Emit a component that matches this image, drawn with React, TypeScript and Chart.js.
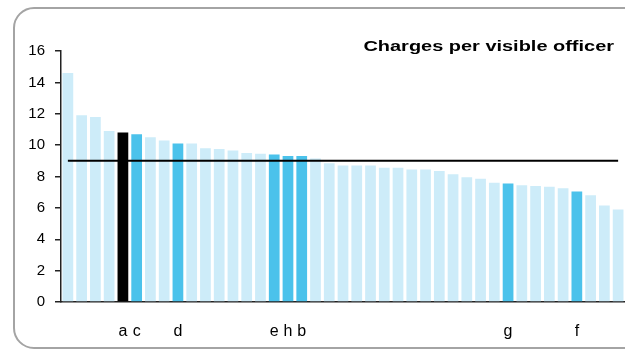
import React, { useEffect, useRef } from "react";
import { Chart, registerables } from "chart.js";

Chart.register(...registerables);

const categories: string[] = [
  "", "", "", "", "a", "c", "", "", "d", "", "", "", "", "", "", "e", "h", "b", "", "", "",
  "", "", "", "", "", "", "", "", "", "", "", "g", "", "", "", "", "f", "", "", "",
];

const chargesPerOfficer: number[] = [
  14.6, 11.9, 11.8, 10.9, 10.8, 10.7, 10.5, 10.3, 10.1, 10.1, 9.8, 9.75, 9.65, 9.5, 9.45,
  9.4, 9.3, 9.3, 9.15, 8.85, 8.7, 8.7, 8.7, 8.55, 8.55, 8.45, 8.45, 8.35, 8.15, 7.95,
  7.85, 7.6, 7.55, 7.45, 7.4, 7.35, 7.25, 7.05, 6.8, 6.15, 5.9,
];

const averageValue = 9.0;
const blackLabel = "a";
const highlightedLabels: string[] = ["c", "d", "e", "h", "b", "g", "f"];
const yTicks: number[] = [0, 2, 4, 6, 8, 10, 12, 14, 16];
const chartTitle = "Charges per visible officer";

const LIGHT = "#cdecf9";
const HIGHLIGHT = "#4bc2eb";
const BLACK = "#000000";
const FONT = "'Liberation Sans', Arial, sans-serif";

const framePlugin = {
  id: "frameAndTitle",
  beforeDraw(chart: any) {
    const ctx = chart.ctx;
    ctx.save();
    ctx.strokeStyle = "#a4a4a4";
    ctx.lineWidth = 2;
    const left = 14;
    const top = 8;
    const bottom = 348;
    const r = 20;
    ctx.beginPath();
    ctx.moveTo(700, top);
    ctx.lineTo(left + r, top);
    ctx.arcTo(left, top, left, top + r, r);
    ctx.lineTo(left, bottom - r);
    ctx.arcTo(left, bottom, left + r, bottom, r);
    ctx.lineTo(700, bottom);
    ctx.stroke();
    ctx.restore();
  },
  afterDraw(chart: any) {
    const ctx = chart.ctx;
    ctx.save();
    ctx.fillStyle = "#000";
    ctx.font = `bold 15px ${FONT}`;
    ctx.textAlign = "right";
    ctx.textBaseline = "alphabetic";
    ctx.translate(614, 51);
    ctx.scale(1.33, 1);
    ctx.fillText(chartTitle, 0, 0);
    ctx.restore();
  },
};

export default function App() {
  const canvasRef = useRef<HTMLCanvasElement | null>(null);

  useEffect(() => {
    if (!canvasRef.current) return;
    const barColors = categories.map((c) =>
      c === blackLabel ? BLACK : highlightedLabels.includes(c) ? HIGHLIGHT : LIGHT
    );
    const chart = new Chart(canvasRef.current, {
      type: "bar",
      data: {
        labels: categories,
        datasets: [
          {
            type: "line",
            label: "Average",
            data: categories.map(() => averageValue),
            borderColor: "#000",
            borderWidth: 2,
            pointRadius: 0,
            fill: false,
            order: 0,
          } as any,
          {
            type: "bar",
            label: "Charges per visible officer",
            data: chargesPerOfficer,
            backgroundColor: barColors,
            borderWidth: 0,
            barPercentage: 0.78,
            categoryPercentage: 1.0,
            order: 1,
          },
        ],
      },
      plugins: [framePlugin],
      options: {
        responsive: false,
        animation: false,
        layout: { padding: { left: 0, right: 0, top: 51, bottom: 0 } },
        plugins: {
          legend: { display: false },
          tooltip: { enabled: false },
          title: { display: false },
        },
        scales: {
          x: {
            grid: { display: false, drawTicks: false },
            border: { display: true, color: "#222", width: 1.5 },
            ticks: {
              autoSkip: false,
              maxRotation: 0,
              minRotation: 0,
              padding: 20,
              color: "#000",
              font: { family: FONT, size: 16 },
            },
            afterFit(scale: any) {
              scale.height = 48;
              scale.paddingLeft = 0;
              scale.paddingRight = 0;
            },
          },
          y: {
            min: 0,
            max: 16,
            afterBuildTicks(scale: any) {
              scale.ticks = yTicks.map((v) => ({ value: v }));
            },
            grid: {
              drawOnChartArea: false,
              drawTicks: true,
              tickLength: 6,
              color: "#222",
              lineWidth: 1.5,
            },
            border: { display: true, color: "#222", width: 1.5 },
            ticks: {
              padding: 10,
              color: "#000",
              font: { family: FONT, size: 15 },
            },
            afterFit(scale: any) {
              scale.width = 61;
            },
          },
        },
      },
    });
    return () => chart.destroy();
  }, []);

  return (
    <div style={{ position: "absolute", left: 0, top: 0, width: 625, height: 350 }}>
      <canvas ref={canvasRef} width={625} height={350} style={{ display: "block" }} />
    </div>
  );
}
